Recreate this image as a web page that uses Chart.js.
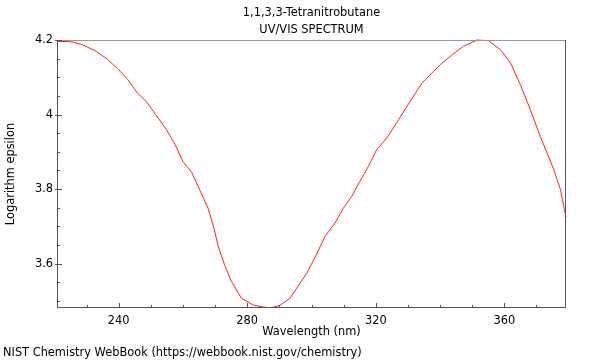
<!DOCTYPE html>
<html>
<head>
<meta charset="utf-8">
<script src="https://cdn.jsdelivr.net/npm/chart.js@4/dist/chart.umd.min.js"></script>
<style>
html,body{margin:0;padding:0;background:#fff;}
#wrap{width:600px;height:360px;position:relative;}
</style>
</head>
<body>
<div id="wrap"><canvas id="c" width="600" height="360"></canvas></div>
<script>
const titleLines = ["1,1,3,3-Tetranitrobutane", "UV/VIS SPECTRUM"];
const xAxisTitle = "Wavelength (nm)";
const yAxisTitle = "Logarithm epsilon";
const footerText = "NIST Chemistry WebBook (https://webbook.nist.gov/chemistry)";

const wavelengths = [221,224,226,228.5,232.5,236.3,240,242.8,245.8,248.6,251.5,254.9,257.5,260.0,262.7,265.2,267.8,269.5,271.0,273,275.1,278.2,281.9,284,286.5,288,290.2,293.3,295.4,298.5,301,304.2,307.3,309.9,312.5,315,317.7,320.3,323.4,327.1,329.7,334.4,340.1,344,347.3,351.5,355.1,358.8,361.9,365.0,368.1,371.2,373.3,375.4,377.5,378.5,379.2];
const logEpsilon = [4.196,4.196,4.194,4.188,4.172,4.150,4.120,4.094,4.058,4.035,4.000,3.959,3.920,3.874,3.845,3.798,3.749,3.700,3.646,3.595,3.552,3.507,3.489,3.485,3.482,3.483,3.488,3.507,3.534,3.574,3.615,3.673,3.709,3.749,3.780,3.820,3.861,3.906,3.937,3.986,4.022,4.085,4.134,4.162,4.183,4.200,4.198,4.174,4.139,4.080,4.013,3.941,3.897,3.852,3.798,3.753,3.725];

const xMajorTicks = [240, 280, 320, 360];
const xMinorTicks = [230, 250, 260, 270, 290, 300, 310, 330, 340, 350, 370];
const yMajorTicks = [3.6, 3.8, 4.0, 4.2];
const yMinorTicks = [3.5, 3.55, 3.65, 3.7, 3.75, 3.85, 3.9, 3.95, 4.05, 4.1, 4.15];

const FONT = "DejaVu Sans";
const FSIZE = 11.4;

const decor = {
  id: 'decor',
  afterDraw(chart) {
    const ctx = chart.ctx;
    const a = chart.chartArea;
    const xs = chart.scales.x, ys = chart.scales.y;
    ctx.save();
    ctx.lineWidth = 1;
    ctx.strokeStyle = '#999999';
    ctx.beginPath(); ctx.moveTo(a.left, a.top + 0.5); ctx.lineTo(a.right, a.top + 0.5); ctx.stroke();
    ctx.strokeStyle = '#555555';
    ctx.beginPath();
    ctx.moveTo(a.right - 0.5, a.top); ctx.lineTo(a.right - 0.5, a.bottom);
    ctx.moveTo(a.left + 0.5, a.top); ctx.lineTo(a.left + 0.5, a.bottom);
    ctx.moveTo(a.left, a.bottom - 0.5); ctx.lineTo(a.right, a.bottom - 0.5);
    ctx.stroke();
    ctx.beginPath();
    xMajorTicks.forEach(v => { const p = Math.round(xs.getPixelForValue(v)) + 0.5; ctx.moveTo(p, a.bottom); ctx.lineTo(p, a.bottom - 5); });
    xMinorTicks.forEach(v => { const p = Math.round(xs.getPixelForValue(v)) + 0.5; ctx.moveTo(p, a.bottom); ctx.lineTo(p, a.bottom - 3); });
    yMajorTicks.forEach(v => { const p = Math.round(ys.getPixelForValue(v)) + 0.5; ctx.moveTo(a.left - 2, p); ctx.lineTo(a.left + 5, p); });
    yMinorTicks.forEach(v => { const p = Math.round(ys.getPixelForValue(v)) + 0.5; ctx.moveTo(a.left, p); ctx.lineTo(a.left + 3, p); });
    ctx.stroke();
    ctx.fillStyle = '#000';
    ctx.font = FSIZE + 'px "' + FONT + '"';
    ctx.textAlign = 'center';
    ctx.textBaseline = 'middle';
    const cx = (a.left + a.right) / 2;
    ctx.fillText(titleLines[0], cx, 13);
    ctx.fillText(titleLines[1], cx, 30);
    ctx.fillText(xAxisTitle, cx, 332);
    ctx.save();
    ctx.translate(11, (a.top + a.bottom) / 2);
    ctx.rotate(-Math.PI / 2);
    ctx.fillText(yAxisTitle, 0, 0);
    ctx.restore();
    ctx.textAlign = 'left';
    ctx.fillText(footerText, 3, 353);
    ctx.restore();
  }
};

new Chart(document.getElementById('c'), {
  type: 'scatter',
  data: {
    datasets: [{
      data: wavelengths.map((w, i) => ({x: w, y: logEpsilon[i]})),
      showLine: true,
      borderColor: '#ff2020',
      borderWidth: 1,
      pointRadius: 0,
      tension: 0,
      clip: 2
    }]
  },
  options: {
    responsive: false,
    animation: false,
    events: [],
    layout: { padding: { top: 40, right: 34, left: 0, bottom: 0 } },
    plugins: { legend: { display: false }, tooltip: { enabled: false }, title: { display: false } },
    scales: {
      x: {
        type: 'linear', min: 220.8, max: 379.2,
        grid: { display: false }, border: { display: false },
        afterFit(s) { s.height = 52; },
        afterBuildTicks(s) { s.ticks = xMajorTicks.map(v => ({value: v})); },
        ticks: { padding: -2, color: '#000', font: { family: FONT, size: FSIZE }, maxRotation: 0, callback: v => String(v) }
      },
      y: {
        type: 'linear', min: 3.481, max: 4.2,
        grid: { display: false }, border: { display: false },
        afterFit(s) { s.width = 57; },
        afterBuildTicks(s) { s.ticks = yMajorTicks.map(v => ({value: v})); },
        ticks: { padding: -4, color: '#000', font: { family: FONT, size: FSIZE }, callback: v => String(+(+v).toFixed(2)) }
      }
    }
  },
  plugins: [decor]
});
</script>
</body>
</html>
